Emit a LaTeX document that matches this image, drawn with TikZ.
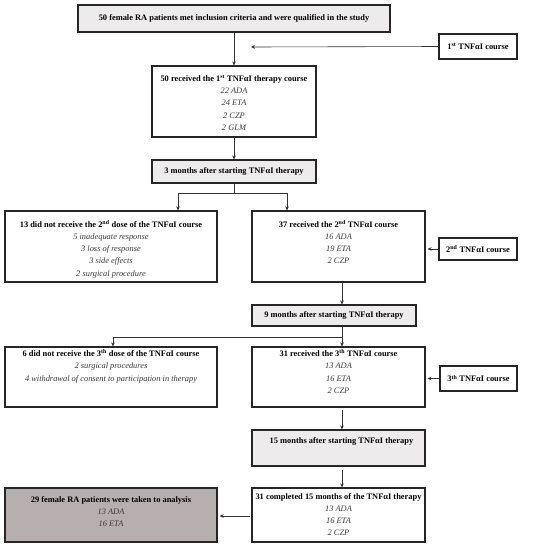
\documentclass[tikz,border=0pt]{standalone}
\usepackage{fontspec}
\setmainfont{Liberation Serif}
\usetikzlibrary{arrows.meta}
\definecolor{lightbox}{HTML}{EDEBEB}
\definecolor{darkbox}{HTML}{B7AFAF}
\definecolor{subtxt}{HTML}{3A3A3A}
\newcommand{\sub}[1]{{\color{subtxt}\itshape #1}}
\tikzset{
  box/.style={draw=black!85, line width=1.1pt, rectangle, inner sep=0pt, align=center,
    font=\fontsize{8.4}{12.3}\selectfont},
  txt/.style={inner sep=0pt, align=center, anchor=north, font=\fontsize{8.4}{12.3}\selectfont},
  arr/.style={line width=0.6pt, black!80, -{Stealth[length=4pt,width=3.6pt]}},
  ln/.style={line width=0.6pt, black!80},
}
\begin{document}
\begin{tikzpicture}[x=1pt,y=1pt]
\useasboundingbox (0,0) rectangle (550,-547);
% boxes
\node[box, fill=lightbox, minimum width=312, minimum height=27] (b1) at (234,-18.5)
  {\textbf{50 female RA patients met inclusion criteria and were qualified in the study}};
\node[box, minimum width=78, minimum height=25] (s1) at (478,-46.5)
  {\textbf{1\textsuperscript{st} TNFαI course}};
\node[box, minimum width=164, minimum height=71] (b2) at (234,-101.5) {};
\node[txt] (t2) at ([yshift=-9.5pt]b2.north)
  {\textbf{50 received the 1\textsuperscript{st} TNFαI therapy course}\\\sub{22 ADA}\\\sub{24 ETA}\\\sub{2 CZP}\\\sub{2 GLM}};
\node[box, fill=lightbox, minimum width=164, minimum height=23] (b3) at (234,-171.5)
  {\textbf{3 months after starting TNFαI therapy}};
\node[box, minimum width=212, minimum height=71] (b4) at (111,-246.5) {};
\node[txt] (t4) at ([yshift=-9.5pt]b4.north)
  {\textbf{13 did not receive the 2\textsuperscript{nd} dose of the TNFαI course}\\\sub{5 inadequate response}\\\sub{3 loss of response}\\\sub{3 side effects}\\\sub{2 surgical procedure}};
\node[box, minimum width=173, minimum height=71] (b5) at (338.5,-246.5) {};
\node[txt] (t5) at ([yshift=-9.5pt]b5.north)
  {\textbf{37 received the 2\textsuperscript{nd} TNFαI course}\\\sub{16 ADA}\\\sub{19 ETA}\\\sub{2 CZP}};
\node[box, minimum width=78, minimum height=22] (s2) at (478,-249)
  {\textbf{2\textsuperscript{nd} TNFαI course}};
\node[box, fill=lightbox, minimum width=164, minimum height=21] (b6) at (334,-315.5)
  {\textbf{9 months after starting TNFαI therapy}};
\node[box, minimum width=212, minimum height=60] (b7) at (111,-377) {};
\node[txt] (t7) at ([yshift=-3pt]b7.north)
  {\textbf{6 did not receive the 3\textsuperscript{th} dose of the TNFαI course}\\\sub{2 surgical procedures}\\\sub{4 withdrawal of consent to participation in therapy}};
\node[box, minimum width=173, minimum height=60] (b8) at (338.5,-377) {};
\node[txt] (t8) at ([yshift=-3pt]b8.north)
  {\textbf{31 received the 3\textsuperscript{th} TNFαI course}\\\sub{13 ADA}\\\sub{16 ETA}\\\sub{2 CZP}};
\node[box, minimum width=77, minimum height=25] (s3) at (478.5,-378.5)
  {\textbf{3\textsuperscript{th} TNFαI course}};
\node[box, fill=lightbox, minimum width=173, minimum height=36] (b9) at (338.5,-448) {};
\node[txt] (t9) at ([xshift=3pt,yshift=-8.2pt]b9.north)
  {\textbf{15 months after starting TNFαI therapy}};
\node[box, minimum width=173, minimum height=54] (b10) at (338.5,-515) {};
\node[txt] (t10) at ([yshift=-5.5pt]b10.north)
  {\textbf{31 completed 15 months of the TNFαI therapy}\\\sub{13 ADA}\\\sub{16 ETA}\\\sub{2 CZP}};
\node[box, fill=darkbox, minimum width=212, minimum height=54] (b11) at (111,-515) {};
\node[txt] (t11) at ([yshift=-8.5pt]b11.north)
  {\textbf{29 female RA patients were taken to analysis}\\\sub{13 ADA}\\\sub{16 ETA}};
% helper coordinates
\coordinate (c1) at (251,-47);
\coordinate (sp1) at (234,-193);
\coordinate (sp1l) at (178,-193);
\coordinate (sp1r) at (287,-193);
\coordinate (sp2) at (342,-337);
\coordinate (sp2l) at (113,-337);
% connectors
\draw[arr] (b1.south) -- (b2.north);
\draw[arr] (s1.west) -- (c1);
\draw[arr] (b2.south) -- (b3.north);
\draw[ln] (b3.south) -- (sp1);
\draw[ln] (sp1l) -- (sp1r);
\draw[arr] (sp1l) -- (sp1l |- b4.north);
\draw[arr] (sp1r) -- (sp1r |- b5.north);
\draw[arr] (s2.west) -- ([xshift=2pt]b5.east |- s2.west);
\draw[arr] (b5.south -| sp2) -- (sp2 |- b6.north);
\draw[ln] (sp2 |- b6.south) -- (sp2);
\draw[ln] (sp2) -- (sp2l);
\draw[arr] (sp2l) -- (sp2l |- b7.north);
\draw[arr] (sp2) -- (sp2 |- b8.north);
\draw[arr] (s3.west) -- ([xshift=2pt]b8.east |- s3.west);
\draw[arr] ([yshift=-2pt]b8.south -| sp2) -- (sp2 |- b9.north);
\draw[arr] ([yshift=-3pt]b9.south -| sp2) -- (sp2 |- b10.north);
\draw[arr] ([xshift=-1pt]b10.west |- 0,-516) -- ([xshift=2pt]b11.east |- 0,-516);
\end{tikzpicture}
\end{document}
